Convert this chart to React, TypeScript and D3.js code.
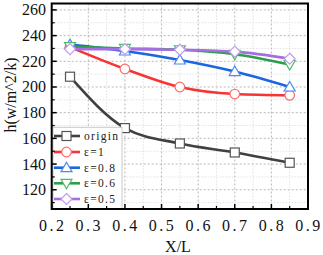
import React from "react";
import * as d3 from "d3";

const xValues = [0.25, 0.4, 0.55, 0.7, 0.85];
const seriesNames = ["origin", "ε=1", "ε=0.8", "ε=0.6", "ε=0.5"];
const originVals = [208, 168, 156, 149, 141];
const eps1Vals = [231, 214, 200, 194.5, 193.5];
const eps08Vals = [233, 228, 221, 212, 200];
const eps06Vals = [231.5, 230, 229, 225.5, 217.5];
const eps05Vals = [229.5, 229.5, 229, 227.5, 222];
const colors = ["#404040", "#f53535", "#1a66e0", "#2e9e4e", "#a66ee0"];
const markerStroke = ["#555555", "#ff6a6a", "#4a8af0", "#4dbb6a", "#c49af0"];
const markers = ["square", "circle", "triangle", "triangleDown", "diamond"];
const yTicks = [120, 140, 160, 180, 200, 220, 240, 260];
const xTicks = [0.2, 0.3, 0.4, 0.5, 0.6, 0.7, 0.8, 0.9];

const W = 323, H = 255;
const L = 51.7, R = 308, T = 3.5, B = 209;

function Marker({ type, cx, cy, stroke }: { type: string; cx: number; cy: number; stroke: string }) {
  const common = { fill: "#fff", stroke, strokeWidth: 1.2 };
  if (type === "square") return <rect x={cx - 4.5} y={cy - 4.5} width={9} height={9} {...common} />;
  if (type === "circle") return <circle cx={cx} cy={cy} r={4.8} {...common} />;
  if (type === "triangle")
    return <path d={`M${cx},${cy - 5.5}L${cx + 5.5},${cy + 4}L${cx - 5.5},${cy + 4}Z`} {...common} />;
  if (type === "triangleDown")
    return <path d={`M${cx},${cy + 5.5}L${cx + 5.5},${cy - 4}L${cx - 5.5},${cy - 4}Z`} {...common} />;
  return <path d={`M${cx},${cy - 5.5}L${cx + 5.5},${cy}L${cx},${cy + 5.5}L${cx - 5.5},${cy}Z`} {...common} />;
}

export default function App() {
  const x = d3.scaleLinear().domain([0.2, 0.9]).range([L, R]);
  const y = d3.scaleLinear().domain([105, 265]).range([B, T]);
  const all = [originVals, eps1Vals, eps08Vals, eps06Vals, eps05Vals];
  const line = d3
    .line<number>()
    .x((_, i) => x(xValues[i]))
    .y((d) => y(d))
    .curve(d3.curveMonotoneX);
  const minorX = d3.range(0.25, 0.9, 0.1);
  const minorY = d3.range(110, 265, 20);
  const legendY = [136, 152, 167.7, 183.3, 199];
  return (
    <svg width={W} height={H} style={{ position: "absolute", left: 0, top: 0 }} fontFamily="'Liberation Serif', 'DejaVu Serif', serif">
      <rect width={W} height={H} fill="#fff" />
      {minorX.map((t) => (
        <line key={"mx" + t} x1={x(t)} x2={x(t)} y1={T} y2={B} stroke="#e2e2e2" strokeDasharray="1.5,1.5" />
      ))}
      {minorY.map((t) => (
        <line key={"my" + t} x1={L} x2={R} y1={y(t)} y2={y(t)} stroke="#e2e2e2" strokeDasharray="1.5,1.5" />
      ))}
      {xTicks.slice(1, -1).map((t) => (
        <line key={"gx" + t} x1={x(t)} x2={x(t)} y1={T} y2={B} stroke="#b8b8b8" strokeDasharray="2,2" />
      ))}
      {yTicks.map((t) => (
        <line key={"gy" + t} x1={L} x2={R} y1={y(t)} y2={y(t)} stroke="#b8b8b8" strokeDasharray="2,2" />
      ))}
      {all.map((vals, s) => (
        <path key={"l" + s} d={line(vals) || ""} fill="none" stroke={colors[s]} strokeWidth={2.6} />
      ))}
      {all.map((vals, s) =>
        vals.map((v, i) => (
          <Marker key={"m" + s + "-" + i} type={markers[s]} cx={x(xValues[i])} cy={y(v)} stroke={markerStroke[s]} />
        ))
      )}
      <rect x={53} y={127.3} width={69} height={82} fill="#fff" stroke="#c8c8c8" strokeWidth={1} />
      {seriesNames.map((n, s) => (
        <g key={"lg" + s}>
          <line x1={54} x2={80} y1={legendY[s]} y2={legendY[s]} stroke={colors[s]} strokeWidth={2.6} />
          <Marker type={markers[s]} cx={66.5} cy={legendY[s]} stroke={markerStroke[s]} />
          <text x={84} y={legendY[s] + 4} fontSize={11.5} letterSpacing={1.3} fill="#222">
            {n}
          </text>
        </g>
      ))}
      {xTicks.map((t) => (
        <line key={"tx" + t} x1={x(t)} x2={x(t)} y1={B} y2={B - 5} stroke="#000" strokeWidth={1.5} />
      ))}
      {minorX.map((t) => (
        <line key={"tmx" + t} x1={x(t)} x2={x(t)} y1={B} y2={B - 3} stroke="#000" strokeWidth={1.2} />
      ))}
      {yTicks.map((t) => (
        <line key={"ty" + t} x1={L} x2={L + 5} y1={y(t)} y2={y(t)} stroke="#000" strokeWidth={1.5} />
      ))}
      {minorY.map((t) => (
        <line key={"tmy" + t} x1={L} x2={L + 3} y1={y(t)} y2={y(t)} stroke="#000" strokeWidth={1.2} />
      ))}
      <rect x={L} y={T} width={R - L} height={B - T} fill="none" stroke="#000" strokeWidth={2} />
      {yTicks.map((t) => (
        <text key={"yl" + t} x={46} y={y(t) + 5.5} fontSize={16} textAnchor="end" fill="#111">
          {t}
        </text>
      ))}
      {xTicks.map((t) => (
        <text key={"xl" + t} x={x(t) + 1} y={231} fontSize={16} textAnchor="middle" letterSpacing={2.5} fill="#111">
          {t.toFixed(1)}
        </text>
      ))}
      <text x={178} y={252} fontSize={16} textAnchor="middle" fill="#111">
        X/L
      </text>
      <text transform={`translate(16,95) rotate(-90)`} fontSize={16} textAnchor="middle" fill="#111">
        h(w/m^2/k)
      </text>
    </svg>
  );
}
